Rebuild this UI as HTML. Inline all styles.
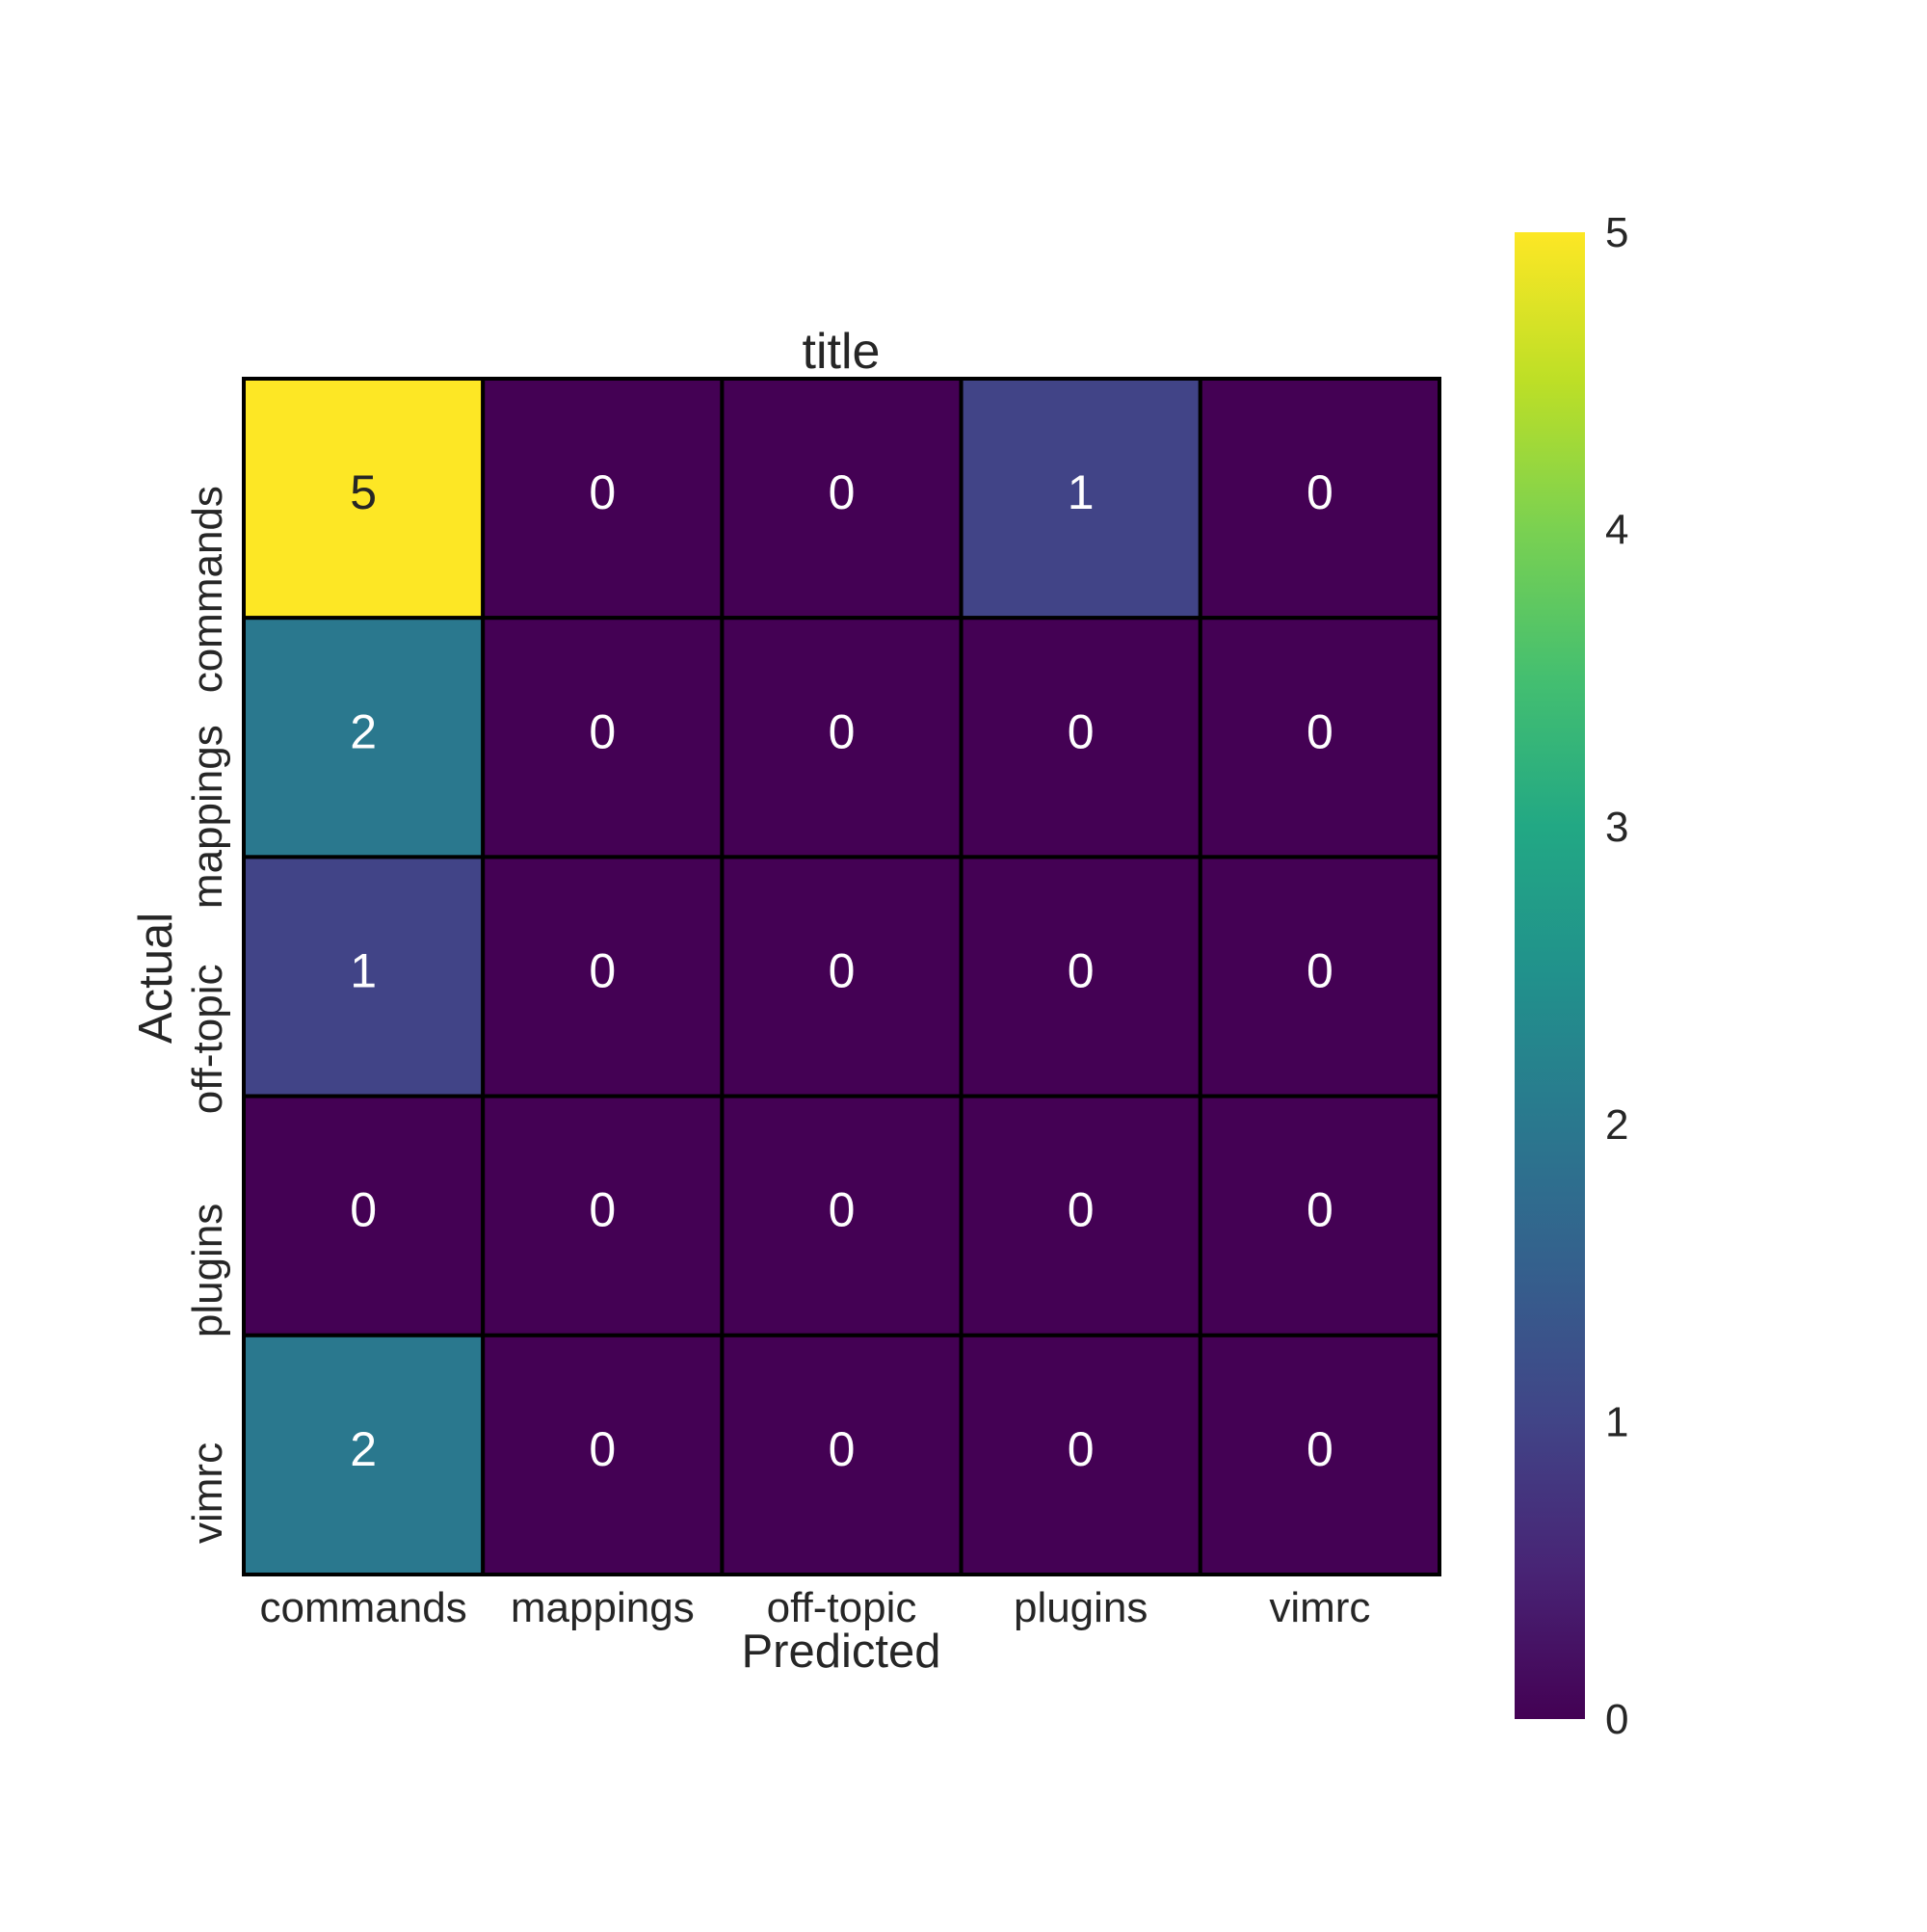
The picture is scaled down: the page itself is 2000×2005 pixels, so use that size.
<!DOCTYPE html>
<html><head><meta charset="utf-8"><style>
html,body{margin:0;padding:0;background:#fff;}
svg text{font-family:"Liberation Sans",sans-serif;fill:#262626;}
</style></head><body>
<svg id="chart" width="2000" height="2000" viewBox="0 0 2000 2000" xmlns="http://www.w3.org/2000/svg">
<defs>
<linearGradient id="vir" x1="0" y1="1" x2="0" y2="0">
<stop offset="0" stop-color="#440154"/><stop offset="0.1" stop-color="#482475"/><stop offset="0.2" stop-color="#414487"/><stop offset="0.3" stop-color="#355f8d"/><stop offset="0.4" stop-color="#2a788e"/><stop offset="0.5" stop-color="#21918c"/><stop offset="0.6" stop-color="#22a884"/><stop offset="0.7" stop-color="#44bf70"/><stop offset="0.8" stop-color="#7ad151"/><stop offset="0.9" stop-color="#bddf26"/><stop offset="1" stop-color="#fde725"/>
</linearGradient>
</defs>
<g id="cells"></g>
<g id="labels"></g>
<rect x="1572" y="241" width="73" height="1543" fill="url(#vir)"/>
<g id="cbticks"></g>
<text x="873" y="382" font-size="52" text-anchor="middle">title</text>
<text x="873" y="1730" font-size="49" text-anchor="middle">Predicted</text>
<text x="0" y="0" font-size="49" text-anchor="middle" transform="translate(178,1015) rotate(-90)">Actual</text>
</svg>
<script>
const categories = ["commands","mappings","off-topic","plugins","vimrc"];
const matrix = [[5,0,0,1,0],[2,0,0,0,0],[1,0,0,0,0],[0,0,0,0,0],[2,0,0,0,0]];
const cbTicks = [0,1,2,3,4,5];
const NS="http://www.w3.org/2000/svg";
const L=253,T=393,S=1241,n=categories.length,cw=S/n;
const vmin=0,vmax=5;
const stops=["#440154","#482475","#414487","#355f8d","#2a788e","#21918c","#22a884","#44bf70","#7ad151","#bddf26","#fde725"];
function hex(h){return [1,3,5].map(i=>parseInt(h.substr(i,2),16));}
function color(v){let t=(v-vmin)/(vmax-vmin)*10;let i=Math.min(9,Math.floor(t));let f=t-i;let a=hex(stops[i]),b=hex(stops[i+1]);return "rgb("+a.map((x,k)=>Math.round(x+(b[k]-x)*f)).join(",")+")";}
const xs=j=>L+j*cw, ys=i=>T+i*cw;
const cells=document.getElementById('cells'), lab=document.getElementById('labels');
matrix.forEach((row,i)=>row.forEach((v,j)=>{
 const r=document.createElementNS(NS,'rect');
 r.setAttribute('x',xs(j));r.setAttribute('y',ys(i));r.setAttribute('width',cw);r.setAttribute('height',cw);
 r.setAttribute('fill',color(v));r.setAttribute('stroke','#000');r.setAttribute('stroke-width','4');
 
 
 cells.appendChild(r);
 const t=document.createElementNS(NS,'text');
 t.setAttribute('x',xs(j)+cw/2);t.setAttribute('y',ys(i)+cw/2+11);t.setAttribute('font-size','50');t.setAttribute('text-anchor','middle');
 t.style.fill = v>2.5?'#262626':'#ffffff';
 t.textContent=v;
 
 
 lab.appendChild(t);
}));
categories.forEach((c,j)=>{
 const t=document.createElementNS(NS,'text');
 t.setAttribute('x',xs(j)+cw/2);t.setAttribute('y',1683);t.setAttribute('font-size','44');t.setAttribute('text-anchor','middle');
 t.textContent=c;
 
 
 lab.appendChild(t);
 const u=document.createElementNS(NS,'text');
 u.setAttribute('font-size','44');u.setAttribute('text-anchor','end');
 u.setAttribute('transform','translate(230,'+(ys(j)+cw/2-13)+') rotate(-90)');
 u.textContent=c;
 
 
 lab.appendChild(u);
});
const cb=document.getElementById('cbticks');
cbTicks.forEach(v=>{
 const y=1784-(v-vmin)/(vmax-vmin)*1543;
 const t=document.createElementNS(NS,'text');
 t.setAttribute('x',1666);t.setAttribute('y',y+15);t.setAttribute('font-size','44');
 t.textContent=v;
 
 
 cb.appendChild(t);
});
</script>
</body></html>
